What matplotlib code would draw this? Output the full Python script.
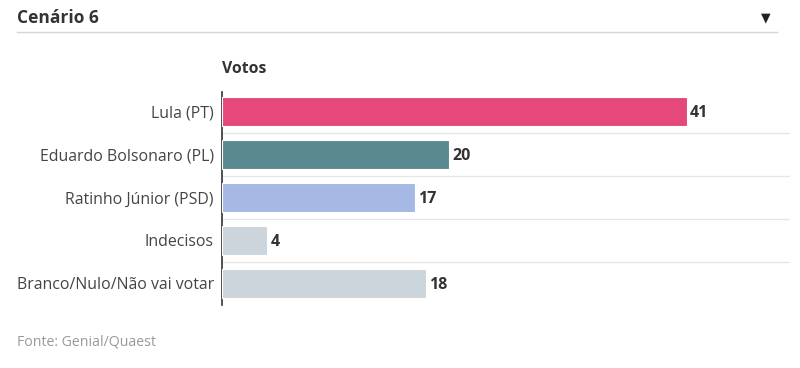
import matplotlib.pyplot as plt
from matplotlib.lines import Line2D

categories = ["Lula (PT)", "Eduardo Bolsonaro (PL)", "Ratinho Júnior (PSD)",
              "Indecisos", "Branco/Nulo/Não vai votar"]
votos = [41, 20, 17, 4, 18]
colors = ["#e5487a", "#5a8a8f", "#a6b9e4", "#cdd5dc", "#cdd5dc"]

plt.rcParams['font.family'] = ['Open Sans', 'DejaVu Sans']

fig = plt.figure(figsize=(8, 3.68), dpi=100)
W, H = 800, 368

# plot area: x 222..790, y 92..305 (pixels from top)
ax = fig.add_axes([222 / W, 1 - 305 / H, (790 - 222) / W, (305 - 92) / H])
ypos = list(range(len(categories)))
ax.barh(ypos, votos, height=0.69, color=colors, edgecolor="white", linewidth=0.8, zorder=3)
ax.set_xlim(0, 50.1)
ax.set_ylim(4.5, -0.45)

for i in range(len(categories) - 1):
    ax.axhline(i + 0.5, color="#e6e6e6", linewidth=1, zorder=1)

for y, v in zip(ypos, votos):
    ax.text(v + 0.3, y, str(v), va="center_baseline", ha="left", fontsize=11.5,
            fontweight="bold", color="#333333")

ax.set_yticks(ypos)
ax.set_yticklabels(categories, fontsize=11.4, color="#444444")
ax.tick_params(axis="y", length=0, pad=6)
ax.set_xticks([])
for s in ["top", "right", "bottom"]:
    ax.spines[s].set_visible(False)
ax.spines["left"].set_color("#333333")
ax.spines["left"].set_linewidth(1.2)

# header
fig.text(17 / W, 1 - 18 / H, "Cenário 6", fontsize=12.5, fontweight="bold",
         color="#333333", va="center", ha="left")
fig.add_artist(Line2D([17 / W, 777 / W], [1 - 32 / H, 1 - 32 / H],
                      color="#d6d6d6", linewidth=1))
fig.text(766 / W, 1 - 18 / H, "\u25bc", fontsize=9, color="#222222",
         va="center", ha="center", family=["DejaVu Sans"])

fig.text(222 / W, 1 - 69 / H, "Votos", fontsize=11.3, fontweight="bold",
         color="#333333", va="center", ha="left")

fig.text(17 / W, 1 - 342 / H, "Fonte: Genial/Quaest", fontsize=10.2,
         color="#999999", va="center", ha="left")

fig.savefig("out.png", dpi=100)
